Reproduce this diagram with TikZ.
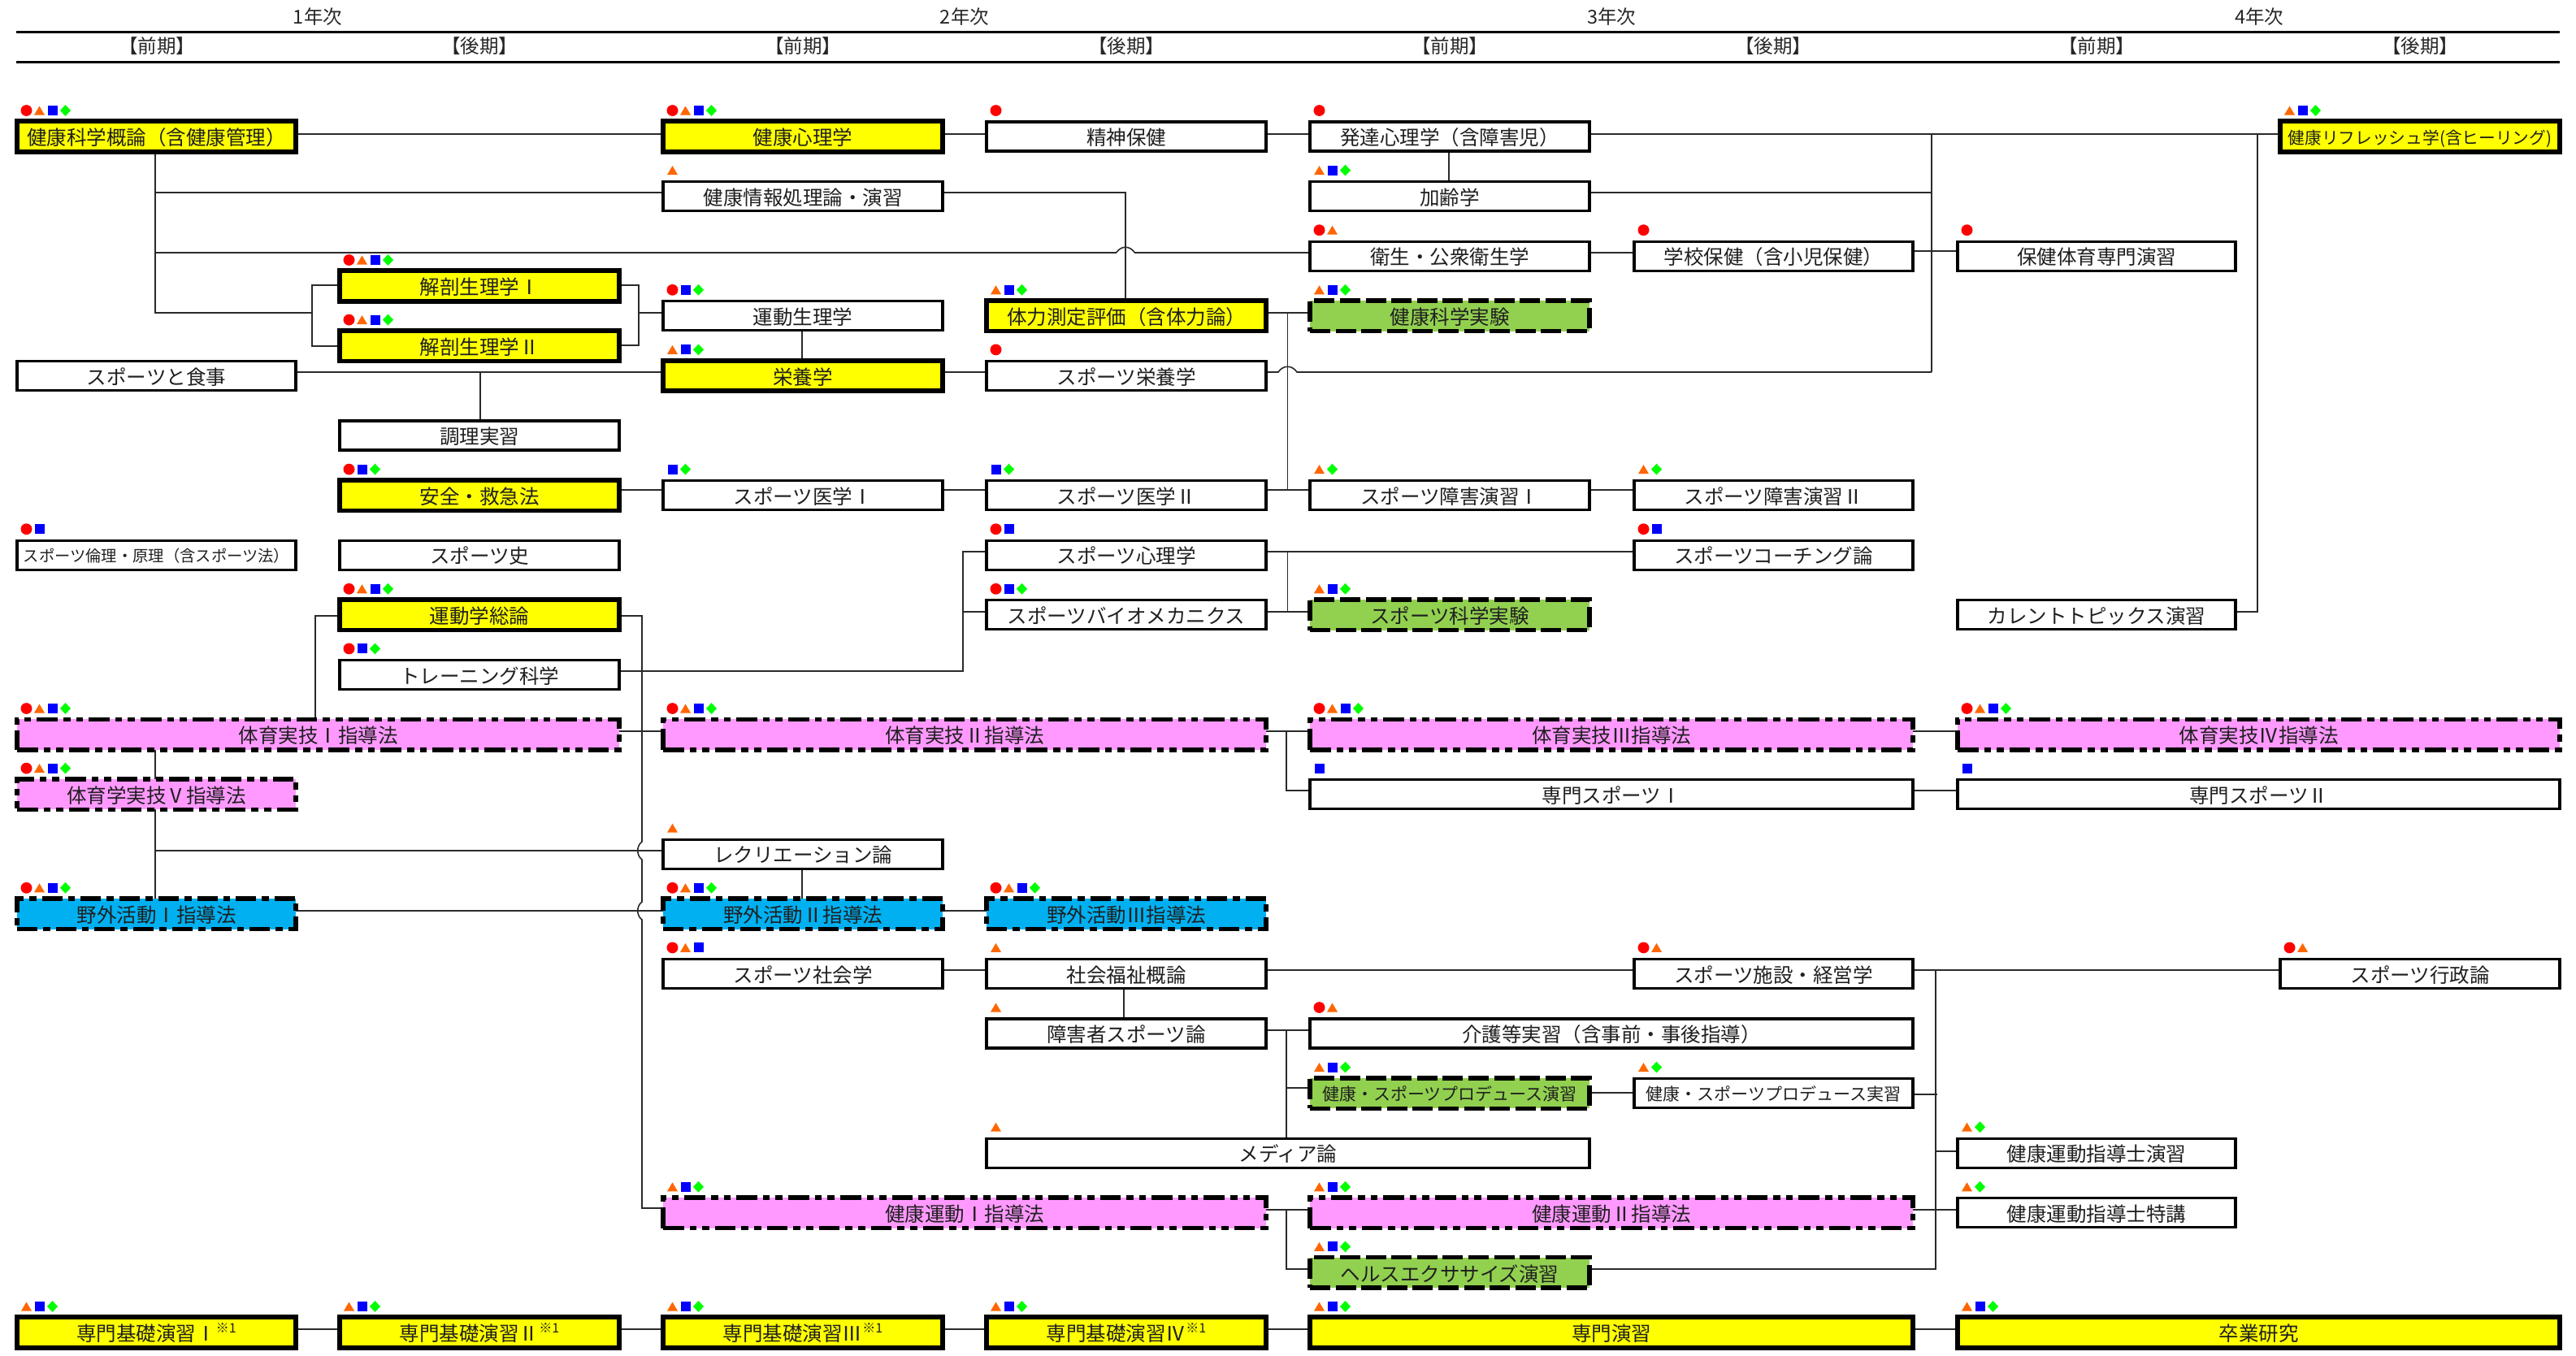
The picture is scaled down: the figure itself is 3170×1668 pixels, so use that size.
\documentclass[tikz,border=0pt]{standalone}
\usepackage{fontspec}
\setmainfont{Noto Sans CJK JP}
\usetikzlibrary{backgrounds}
\definecolor{mkorange}{HTML}{FF6600}
\definecolor{mklime}{HTML}{00FF00}
\definecolor{mkblue}{HTML}{0000FF}
\definecolor{mkred}{HTML}{FF0000}
\definecolor{boxpink}{HTML}{FF99FF}
\definecolor{boxblue}{HTML}{00B0F0}
\definecolor{boxgreen}{HTML}{92D050}
\definecolor{boxyellow}{HTML}{FFFF00}
\definecolor{lncol}{HTML}{2A2A2A}
\tikzset{
  base/.style={draw=black,inner sep=0pt,outer sep=0pt,align=center,text=black!88,
    font=\fontsize{24.5}{24.5}\selectfont,text height=23pt,text depth=1.5pt},
  thinbox/.style={base,fill=white,line width=3.2pt,minimum height=36pt},
  thickbox/.style={base,fill=boxyellow,line width=5.7pt,minimum height=37.5pt},
  pinkbox/.style={base,fill=boxpink,line width=5.5pt,minimum height=37.5pt,
    dash pattern=on 25.5pt off 7pt on 8.7pt off 7pt on 8.7pt off 7pt},
  bluebox/.style={base,fill=boxblue,line width=5.5pt,minimum height=37.5pt,
    dash pattern=on 25pt off 7pt on 8.7pt off 7pt},
  greenbox/.style={base,fill=boxgreen,line width=5.5pt,minimum height=37.5pt,
    dash pattern=on 25pt off 6.6pt},
  small/.style={font=\fontsize{#1}{#1}\selectfont,text height=0.94*#1pt,text depth=0.06*#1pt},
  ln/.style={draw=lncol,line width=1.6pt,line join=miter},
  head/.style={inner sep=0pt,outer sep=0pt,text=black!85,font=\fontsize{23.5}{23.5}\selectfont},
  rule/.style={draw=black,line width=3pt}
}
\newcommand\mkc[2]{\fill[mkred] (#1,#2) ellipse [x radius=7,y radius=6.9];}
\newcommand\mkt[2]{\fill[mkorange] (#1-6.5,#2+5.5) -- (#1,#2-5.5) -- (#1+6.5,#2+5.5) -- cycle;}
\newcommand\mks[2]{\fill[mkblue] (#1-6,#2-6) rectangle (#1+6,#2+6);}
\newcommand\mkd[2]{\fill[mklime] (#1-6.6,#2) -- (#1,#2-6.9) -- (#1+6.6,#2) -- (#1,#2+6.9) -- cycle;}
\newcommand\mkn[2]{}
\newcommand\mkset[3]{\foreach \k [count=\n from 0] in {#3} {%
  \pgfmathsetmacro\mx{#1+16*\n}\pgfmathsetmacro\my{#2}\csname mk\k\endcsname{\mx}{\my}}}
% style, name, left, right, row, text, marks
\newcommand\crs[7]{%
  \pgfmathsetmacro\cx{(#3+#4)/2}\pgfmathsetmacro\cy{168+73.6*#5}\pgfmathsetmacro\cw{#4-#3}%
  \node[#1,minimum width=\cw pt] (#2) at (\cx,\cy) {#6};%
  \mkset{#3+11.5}{\cy-32}{#7}}
\newcommand\sups{\raisebox{10pt}{\fontsize{16}{16}\selectfont ※1}}
\def\Al{21}\def\Ar{364}\def\Bl{418}\def\Br{762}\def\Cl{816}\def\Cr{1160}\def\Dl{1214}\def\Dr{1558}
\def\El{1612}\def\Er{1956}\def\Fl{2011}\def\Fr{2354}\def\Gl{2409}\def\Gr{2751}\def\Hl{2806}\def\Hr{3150}
\begin{document}
\begin{tikzpicture}[x=1pt,y=-1pt]
\useasboundingbox (0,0) rectangle (3170,1668);
% header
\node[head] (y1) at (391,21) {1年次};
\node[head] (y2) at (1187,21) {2年次};
\node[head] (y3) at (1983,21) {3年次};
\node[head] (y4) at (2780,21) {4年次};
\foreach \nm/\xx/\tt in {a/193/前期,b/590/後期,c/988/前期,d/1386/後期,e/1784/前期,f/2182/後期,g/2580/前期,h/2978/後期}{
  \node[head] (t\nm) at (\xx,57) {【\tt】};}
\coordinate (r1a) at (20,39); \coordinate (r1b) at (3150,39);
\coordinate (r2a) at (20,76); \coordinate (r2b) at (3150,76);
\draw[rule] (r1a) -- (r1b);
\draw[rule] (r2a) -- (r2b);
% courses
\crs{thickbox}{kenkou}{\Al}{\Ar}{0}{健康科学概論（含健康管理）}{c,t,s,d}
\crs{thickbox}{shinri}{\Cl}{\Cr}{0}{健康心理学}{c,t,s,d}
\crs{thinbox}{seishin}{\Dl}{\Dr}{0}{精神保健}{c}
\crs{thinbox}{hattatsu}{\El}{\Er}{0}{発達心理学（含障害児）}{c}
\crs{thickbox,small=20.7}{refresh}{\Hl}{\Hr}{0}{健康リフレッシュ学(含ヒーリング)}{t,s,d}
\crs{thinbox}{joho}{\Cl}{\Cr}{1}{健康情報処理論・演習}{t}
\crs{thinbox}{karei}{\El}{\Er}{1}{加齢学}{t,s,d}
\crs{thinbox}{eisei}{\El}{\Er}{2}{衛生・公衆衛生学}{c,t}
\crs{thinbox}{gakko}{\Fl}{\Fr}{2}{学校保健（含小児保健）}{c}
\crs{thinbox}{hotai}{\Gl}{\Gr}{2}{保健体育専門演習}{c}
\crs{thickbox}{kaibo}{\Bl}{\Br}{2.5}{解剖生理学Ⅰ}{c,t,s,d}
\crs{thickbox}{kaibob}{\Bl}{\Br}{3.5}{解剖生理学Ⅱ}{c,t,s,d}
\crs{thinbox}{undosei}{\Cl}{\Cr}{3}{運動生理学}{c,s,d}
\crs{thickbox}{tairyoku}{\Dl}{\Dr}{3}{体力測定評価（含体力論）}{t,s,d}
\crs{greenbox}{kenjikken}{\El}{\Er}{3}{健康科学実験}{t,s,d}
\crs{thinbox}{shokuji}{\Al}{\Ar}{4}{スポーツと食事}{n}
\crs{thickbox}{eiyo}{\Cl}{\Cr}{4}{栄養学}{t,s,d}
\crs{thinbox}{speiyo}{\Dl}{\Dr}{4}{スポーツ栄養学}{c}
\crs{thinbox}{chori}{\Bl}{\Br}{5}{調理実習}{n}
\crs{thickbox}{anzen}{\Bl}{\Br}{6}{安全・救急法}{c,s,d}
\crs{thinbox}{igaku}{\Cl}{\Cr}{6}{スポーツ医学Ⅰ}{s,d}
\crs{thinbox}{igakub}{\Dl}{\Dr}{6}{スポーツ医学Ⅱ}{s,d}
\crs{thinbox}{shogai}{\El}{\Er}{6}{スポーツ障害演習Ⅰ}{t,d}
\crs{thinbox}{shogaib}{\Fl}{\Fr}{6}{スポーツ障害演習Ⅱ}{t,d}
\crs{thinbox,small=19.3}{rinri}{\Al}{\Ar}{7}{スポーツ倫理・原理（含スポーツ法）}{c,s}
\crs{thinbox}{shi}{\Bl}{\Br}{7}{スポーツ史}{n}
\crs{thinbox}{spshinri}{\Dl}{\Dr}{7}{スポーツ心理学}{c,s}
\crs{thinbox}{coach}{\Fl}{\Fr}{7}{スポーツコーチング論}{c,s}
\crs{thickbox}{undogaku}{\Bl}{\Br}{8}{運動学総論}{c,t,s,d}
\crs{thinbox}{bio}{\Dl}{\Dr}{8}{スポーツバイオメカニクス}{c,s,d}
\crs{greenbox}{spjikken}{\El}{\Er}{8}{スポーツ科学実験}{t,s,d}
\crs{thinbox}{current}{\Gl}{\Gr}{8}{カレントトピックス演習}{n}
\crs{thinbox}{training}{\Bl}{\Br}{9}{トレーニング科学}{c,s,d}
\crs{pinkbox}{tai}{\Al}{\Br}{10}{体育実技Ⅰ指導法}{c,t,s,d}
\crs{pinkbox}{taib}{\Cl}{\Dr}{10}{体育実技Ⅱ指導法}{c,t,s,d}
\crs{pinkbox}{taic}{\El}{\Fr}{10}{体育実技Ⅲ指導法}{c,t,s,d}
\crs{pinkbox}{taid}{\Gl}{\Hr}{10}{体育実技Ⅳ指導法}{c,t,s,d}
\crs{pinkbox}{taie}{\Al}{\Ar}{11}{体育学実技Ⅴ指導法}{c,t,s,d}
\crs{thinbox}{senspa}{\El}{\Fr}{11}{専門スポーツⅠ}{s}
\crs{thinbox}{senspb}{\Gl}{\Hr}{11}{専門スポーツⅡ}{s}
\crs{thinbox}{recre}{\Cl}{\Cr}{12}{レクリエーション論}{t}
\crs{bluebox}{yagai}{\Al}{\Ar}{13}{野外活動Ⅰ指導法}{c,t,s,d}
\crs{bluebox}{yagaib}{\Cl}{\Cr}{13}{野外活動Ⅱ指導法}{c,t,s,d}
\crs{bluebox}{yagaic}{\Dl}{\Dr}{13}{野外活動Ⅲ指導法}{c,t,s,d}
\crs{thinbox}{shakai}{\Cl}{\Cr}{14}{スポーツ社会学}{c,t,s}
\crs{thinbox}{fukushi}{\Dl}{\Dr}{14}{社会福祉概論}{t}
\crs{thinbox}{shisetsu}{\Fl}{\Fr}{14}{スポーツ施設・経営学}{c,t}
\crs{thinbox}{gyosei}{\Hl}{\Hr}{14}{スポーツ行政論}{c,t}
\crs{thinbox}{shogaisha}{\Dl}{\Dr}{15}{障害者スポーツ論}{t}
\crs{thinbox}{kaigo}{\El}{\Fr}{15}{介護等実習（含事前・事後指導）}{c,t}
\crs{greenbox,small=21}{produce}{\El}{\Er}{16}{健康・スポーツプロデュース演習}{t,s,d}
\crs{thinbox,small=21}{produceb}{\Fl}{\Fr}{16}{健康・スポーツプロデュース実習}{t,d}
\crs{thinbox}{media}{\Dl}{\Er}{17}{メディア論}{t}
\crs{thinbox}{shidoa}{\Gl}{\Gr}{17}{健康運動指導士演習}{t,d}
\crs{pinkbox}{undoa}{\Cl}{\Dr}{18}{健康運動Ⅰ指導法}{t,s,d}
\crs{pinkbox}{undob}{\El}{\Fr}{18}{健康運動Ⅱ指導法}{t,s,d}
\crs{thinbox}{shidob}{\Gl}{\Gr}{18}{健康運動指導士特講}{t,d}
\crs{greenbox}{health}{\El}{\Er}{19}{ヘルスエクササイズ演習}{t,s,d}
\crs{thickbox}{kisoa}{\Al}{\Ar}{20}{専門基礎演習Ⅰ\sups}{t,s,d}
\crs{thickbox}{kisob}{\Bl}{\Br}{20}{専門基礎演習Ⅱ\sups}{t,s,d}
\crs{thickbox}{kisoc}{\Cl}{\Cr}{20}{専門基礎演習Ⅲ\sups}{t,s,d}
\crs{thickbox}{kisod}{\Dl}{\Dr}{20}{専門基礎演習Ⅳ\sups}{t,s,d}
\crs{thickbox}{senmon}{\El}{\Fr}{20}{専門演習}{t,s,d}
\crs{thickbox}{sotsu}{\Gl}{\Hr}{20}{卒業研究}{t,s,d}
% connectors
\begin{scope}[on background layer]
% row 0
\draw[ln] (kenkou.east |- 0,165) -- (shinri.west |- 0,165);
\draw[ln] (shinri.east |- 0,165) -- (seishin.west |- 0,165);
\draw[ln] (seishin.east |- 0,165) -- (hattatsu.west |- 0,165);
\draw[ln] (hattatsu.east |- 0,165) -- (refresh.west |- 0,165);
% trunk from kenkou
\coordinate (trA) at (191,385);
\coordinate (brL) at (384,385);
\coordinate (brR) at (786,385);
\draw[ln] (kenkou.south -| trA) -- (trA) -- (brL);
\draw[ln] (trA |- 0,237) -- (joho.west |- 0,237);
\draw[ln] (trA |- 0,311) -- (1373.5,311) .. controls (1380,302) and (1390,302) .. (1396.5,311) -- (eisei.west |- 0,311);
\draw[ln] (kaibo.west |- 0,351) -- (brL |- 0,351) -- (brL |- 0,426) -- (kaibob.west |- 0,426);
\draw[ln] (kaibo.east |- 0,351) -- (brR |- 0,351) -- (brR |- 0,425) -- (kaibob.east |- 0,425);
\draw[ln] (brR) -- (undosei.west |- 0,385);
% joho to tairyoku
\draw[ln] (joho.east |- 0,237) -- (1385,237) -- (1385,0 |- tairyoku.north);
\draw[ln] (undosei.south -| 987,0) -- (eiyo.north -| 987,0);
\draw[ln] (hattatsu.south -| 1783,0) -- (karei.north -| 1783,0);
% right bus 2377
\coordinate (busR) at (2377,165);
\draw[ln] (busR) -- (2377,458);
\draw[ln] (karei.east |- 0,237) -- (2377,237);
\draw[ln] (speiyo.east |- 0,458) -- (1573,458) .. controls (1579,449) and (1590,449) .. (1596,458) -- (2377,458);
% eisei row
\draw[ln] (eisei.east |- 0,311) -- (gakko.west |- 0,311);
\draw[ln] (gakko.east |- 0,309) -- (hotai.west |- 0,309);
% tairyoku - kenjikken, bus to row 6
\draw[ln] (tairyoku.east |- 0,385) -- (kenjikken.west |- 0,385);
\draw[ln] (1584.5,385) -- (1584.5,603);
% row 4
\draw[ln] (shokuji.east |- 0,458) -- (eiyo.west |- 0,458);
\draw[ln] (eiyo.east |- 0,458) -- (speiyo.west |- 0,458);
\draw[ln] (chori.north -| 591,0) -- (591,458);
% row 6
\draw[ln] (anzen.east |- 0,603) -- (igaku.west |- 0,603);
\draw[ln] (igaku.east |- 0,603) -- (igakub.west |- 0,603);
\draw[ln] (igakub.east |- 0,603) -- (shogai.west |- 0,603);
\draw[ln] (shogai.east |- 0,603) -- (shogaib.west |- 0,603);
% psych / bio
\draw[ln] (training.east |- 0,826) -- (1185,826) -- (1185,679) -- (spshinri.west |- 0,679);
\draw[ln] (1185,753) -- (bio.west |- 0,753);
\draw[ln] (spshinri.east |- 0,679) -- (coach.west |- 0,679);
\draw[ln] (bio.east |- 0,753) -- (spjikken.west |- 0,753);
\draw[ln] (1584.5,679) -- (1584.5,753);
% undogaku
\draw[ln] (undogaku.west |- 0,758) -- (388,758) -- (388,0 |- tai.north);
\draw[ln] (undogaku.east |- 0,758) -- (790,758) -- (790,1036)
  .. controls (783,1041) and (783,1053) .. (790,1058) -- (790,1110)
  .. controls (783,1115) and (783,1127) .. (790,1132) -- (790,1487) -- (undoa.west |- 0,1487);
% tai row
\draw[ln] (tai.east |- 0,900) -- (taib.west |- 0,900);
\draw[ln] (taib.east |- 0,900) -- (taic.west |- 0,900);
\draw[ln] (taic.east |- 0,900) -- (taid.west |- 0,900);
\draw[ln] (1583,900) -- (1583,973) -- (senspa.west |- 0,973);
\draw[ln] (senspa.east |- 0,973) -- (senspb.west |- 0,973);
% left trunk
\draw[ln] (tai.south -| 191,0) -- (taie.north -| 191,0);
\draw[ln] (taie.south -| 191,0) -- (yagai.north -| 191,0);
\draw[ln] (191,1047) -- (recre.west |- 0,1047);
\draw[ln] (yagai.east |- 0,1121) -- (yagaib.west |- 0,1121);
\draw[ln] (yagaib.east |- 0,1121) -- (yagaic.west |- 0,1121);
\draw[ln] (recre.south -| 987,0) -- (yagaib.north -| 987,0);
% row 14
\draw[ln] (shakai.east |- 0,1194) -- (fukushi.west |- 0,1194);
\draw[ln] (fukushi.east |- 0,1194) -- (shisetsu.west |- 0,1194);
\draw[ln] (shisetsu.east |- 0,1194) -- (gyosei.west |- 0,1194);
\draw[ln] (fukushi.south -| 1383,0) -- (shogaisha.north -| 1383,0);
% lower bus 1583
\draw[ln] (shogaisha.east |- 0,1268) -- (kaigo.west |- 0,1268);
\draw[ln] (1583,1268) -- (1583,0 |- media.north);
\draw[ln] (1583,1339) -- (produce.west |- 0,1339);
\draw[ln] (undoa.east |- 0,1489) -- (undob.west |- 0,1489);
\draw[ln] (1583,1489) -- (1583,1562) -- (health.west |- 0,1562);
% bus 2382
\draw[ln] (2382,1194) -- (2382,1562) -- (health.east |- 0,1562);
\draw[ln] (produce.east |- 0,1345) -- (produceb.west |- 0,1345);
\draw[ln] (produceb.east |- 0,1347) -- (2384,1347);
\draw[ln] (2382,1417) -- (shidoa.west |- 0,1417);
\draw[ln] (undob.east |- 0,1489) -- (shidob.west |- 0,1489);
% row 20
\draw[ln] (kisoa.east |- 0,1636) -- (kisob.west |- 0,1636);
\draw[ln] (kisob.east |- 0,1636) -- (kisoc.west |- 0,1636);
\draw[ln] (kisoc.east |- 0,1636) -- (kisod.west |- 0,1636);
\draw[ln] (kisod.east |- 0,1636) -- (senmon.west |- 0,1636);
\draw[ln] (senmon.east |- 0,1636) -- (sotsu.west |- 0,1636);
% current
\draw[ln] (current.east |- 0,753) -- (2778,753) -- (2778,165);
\end{scope}
\end{tikzpicture}
\end{document}
